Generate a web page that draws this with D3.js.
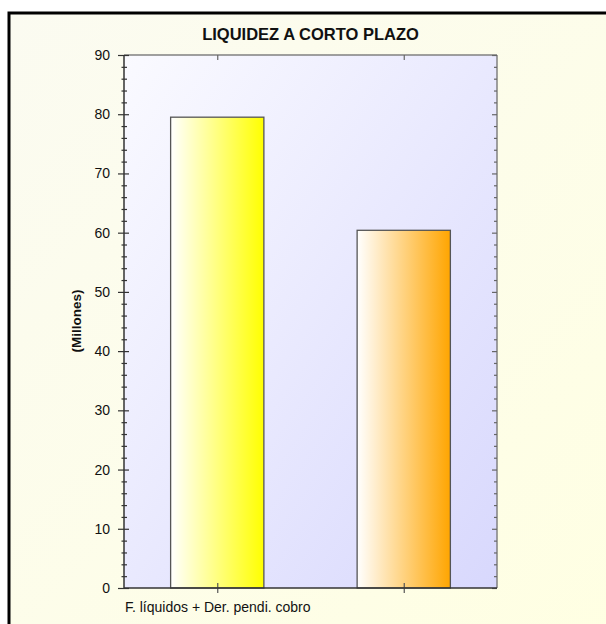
<!DOCTYPE html>
<html><head><meta charset="utf-8">
<script src="https://cdn.jsdelivr.net/npm/d3@7/dist/d3.min.js"></script>
<style>html,body{margin:0;padding:0;background:#fff;}svg{display:block;}</style>
</head><body>
<script>
const title = "LIQUIDEZ A CORTO PLAZO";
const yLabel = "(Millones)";
const categories = ["F. líquidos + Der. pendi. cobro", ""];
const values = [79.5, 60.4];
const barColors = ["#ffff00", "#ffa500"];
const yMajorTicks = [0, 10, 20, 30, 40, 50, 60, 70, 80, 90];
const yMinorTicks = d3.range(0, 91, 2).filter(v => v % 10 !== 0);

const W = 606, H = 624;
const plot = {left: 124, right: 497, top: 55, bottom: 588};
const FONT = "Liberation Sans, Arial, sans-serif";

const svg = d3.select("body").append("svg").attr("width", W).attr("height", H);
const defs = svg.append("defs");

const bgGrad = defs.append("linearGradient").attr("id", "bgGrad")
  .attr("x1", "0%").attr("y1", "0%").attr("x2", "100%").attr("y2", "100%");
bgGrad.append("stop").attr("offset", "0%").attr("stop-color", "#fbfbf1");
bgGrad.append("stop").attr("offset", "100%").attr("stop-color", "#ffffe2");

const plotGrad = defs.append("linearGradient").attr("id", "plotGrad")
  .attr("x1", "0%").attr("y1", "0%").attr("x2", "100%").attr("y2", "100%");
plotGrad.append("stop").attr("offset", "0%").attr("stop-color", "#fafaff");
plotGrad.append("stop").attr("offset", "100%").attr("stop-color", "#d8d8fd");

barColors.forEach((c, i) => {
  const g = defs.append("linearGradient").attr("id", "barGrad" + i)
    .attr("x1", "0%").attr("y1", "0%").attr("x2", "100%").attr("y2", "0%");
  g.append("stop").attr("offset", "0%").attr("stop-color", "#ffffff");
  g.append("stop").attr("offset", "100%").attr("stop-color", c);
});

// chart background and frame
svg.append("rect").attr("x", 0).attr("y", 0).attr("width", W).attr("height", H).attr("fill", "#ffffff");
svg.append("rect").attr("x", 9).attr("y", 13).attr("width", W + 20).attr("height", H + 20)
  .attr("fill", "url(#bgGrad)").attr("stroke", "#000").attr("stroke-width", 3);

const x = d3.scaleBand().domain(categories).range([plot.left, plot.right]).paddingInner(0.5).paddingOuter(0.25);
const y = d3.scaleLinear().domain([0, 90]).range([plot.bottom, plot.top]);

// plot background
svg.append("rect").attr("x", plot.left).attr("y", plot.top)
  .attr("width", plot.right - plot.left).attr("height", plot.bottom - plot.top)
  .attr("fill", "url(#plotGrad)");

// bars
svg.selectAll("rect.bar").data(values).join("rect").attr("class", "bar")
  .attr("x", (d, i) => x(categories[i]))
  .attr("y", d => y(d))
  .attr("width", x.bandwidth())
  .attr("height", d => y(0) - y(d))
  .attr("fill", (d, i) => "url(#barGrad" + i + ")")
  .attr("stroke", "#555").attr("stroke-width", 1.3);

// top and right frame
svg.append("line").attr("x1", plot.left).attr("x2", plot.right).attr("y1", plot.top).attr("y2", plot.top)
  .attr("stroke", "#808080").attr("stroke-width", 1.5);
svg.append("line").attr("x1", plot.right).attr("x2", plot.right).attr("y1", plot.top).attr("y2", plot.bottom)
  .attr("stroke", "#808080").attr("stroke-width", 1.5);

function styleAxis(g, color, showText) {
  g.select(".domain").remove();
  g.selectAll(".tick line").attr("stroke", color).attr("stroke-width", 1.2);
  if (!showText) g.selectAll(".tick text").remove();
}

// left axis
const gLeft = svg.append("g").attr("transform", `translate(${plot.left},0)`)
  .call(d3.axisLeft(y).tickValues(yMajorTicks).tickSize(6).tickPadding(8).tickFormat(d3.format("d")));
styleAxis(gLeft, "#333", true);
gLeft.selectAll(".tick text").attr("font-family", FONT)
  .attr("font-size", "14px").attr("fill", "#111");
const gLeftIn = svg.append("g").attr("transform", `translate(${plot.left},0)`)
  .call(d3.axisRight(y).tickValues(yMajorTicks).tickSize(5));
styleAxis(gLeftIn, "#333", false);
const gLeftMinor = svg.append("g").attr("transform", `translate(${plot.left},0)`)
  .call(d3.axisLeft(y).tickValues(yMinorTicks).tickSize(2.5));
styleAxis(gLeftMinor, "#333", false);
const gLeftMinorIn = svg.append("g").attr("transform", `translate(${plot.left},0)`)
  .call(d3.axisRight(y).tickValues(yMinorTicks).tickSize(3));
styleAxis(gLeftMinorIn, "#333", false);
svg.append("line").attr("x1", plot.left).attr("x2", plot.left).attr("y1", plot.top).attr("y2", plot.bottom)
  .attr("stroke", "#333").attr("stroke-width", 1.5);

// right axis ticks (inward)
const gRight = svg.append("g").attr("transform", `translate(${plot.right},0)`)
  .call(d3.axisLeft(y).tickValues(yMajorTicks).tickSize(5));
styleAxis(gRight, "#666", false);
const gRightMinor = svg.append("g").attr("transform", `translate(${plot.right},0)`)
  .call(d3.axisLeft(y).tickValues(yMinorTicks).tickSize(3));
styleAxis(gRightMinor, "#666", false);

// bottom axis
const xCenter = d3.scalePoint().domain(categories).range([plot.left, plot.right]).padding(0.5);
const gBottom = svg.append("g").attr("transform", `translate(0,${plot.bottom})`)
  .call(d3.axisBottom(xCenter).tickSize(5).tickPadding(9));
styleAxis(gBottom, "#555", true);
gBottom.selectAll(".tick text").attr("font-family", FONT)
  .attr("font-size", "14px").attr("fill", "#111");
const gBottomIn = svg.append("g").attr("transform", `translate(0,${plot.bottom})`)
  .call(d3.axisTop(xCenter).tickSize(5));
styleAxis(gBottomIn, "#555", false);
svg.append("line").attr("x1", plot.left).attr("x2", plot.right).attr("y1", plot.bottom).attr("y2", plot.bottom)
  .attr("stroke", "#333").attr("stroke-width", 1.5);

// top axis ticks (inward)
const gTop = svg.append("g").attr("transform", `translate(0,${plot.top})`)
  .call(d3.axisBottom(xCenter).tickSize(5));
styleAxis(gTop, "#666", false);

// title
svg.append("text").attr("x", (plot.left + plot.right) / 2).attr("y", 39.5)
  .attr("text-anchor", "middle").attr("font-family", FONT)
  .attr("font-weight", "bold").attr("font-size", "16.5px").attr("fill", "#111").text(title);

// y label
svg.append("text").attr("transform", `translate(81,321) rotate(-90)`)
  .attr("text-anchor", "middle").attr("font-family", FONT)
  .attr("font-weight", "bold").attr("font-size", "13.5px").attr("fill", "#111").text(yLabel);
</script>
</body></html>
